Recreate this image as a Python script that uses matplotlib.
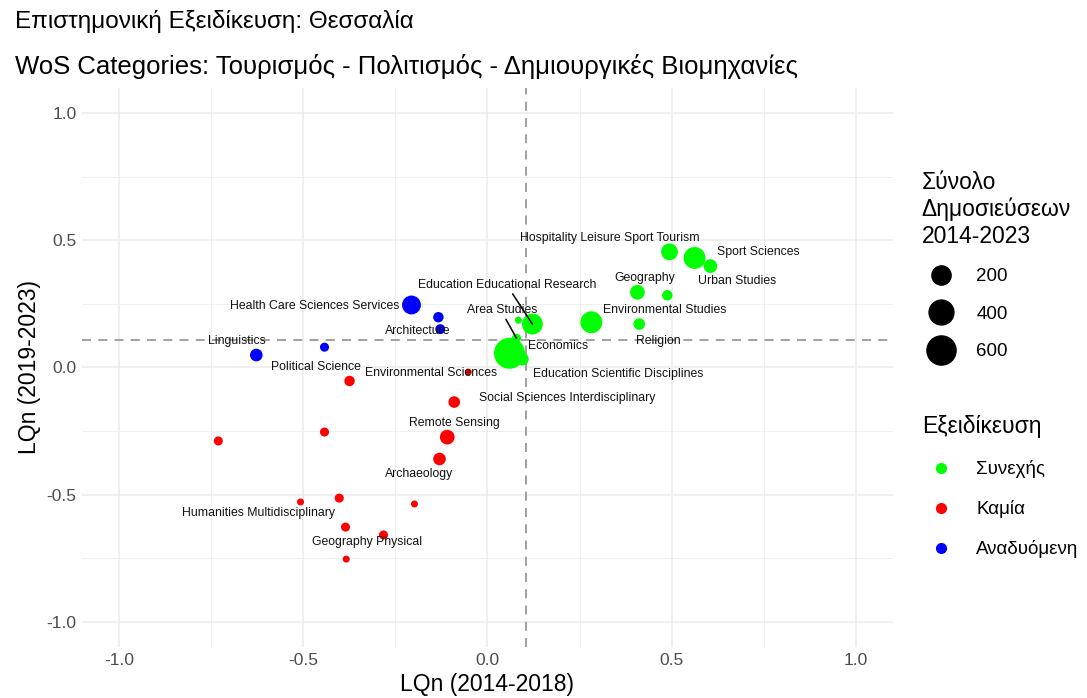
import matplotlib
matplotlib.use("Agg")
import matplotlib.pyplot as plt
from matplotlib.lines import Line2D
import numpy as np

plt.rcParams['font.family'] = ['Liberation Sans', 'DejaVu Sans']
plt.rcParams['axes.unicode_minus'] = False

# WoS categories, LQn in the two periods, publications 2014-2023, group
names = ["Hospitality Leisure Sport Tourism", "Sport Sciences", "Urban Studies",
         "Geography", "", "Environmental Studies", "Religion",
         "Education Educational Research", "", "Area Studies", "Economics",
         "Education Scientific Disciplines",
         "Health Care Sciences Services", "Architecture", "", "Linguistics",
         "Political Science",
         "Environmental Sciences", "Social Sciences Interdisciplinary",
         "Remote Sensing", "Archaeology", "Humanities Multidisciplinary",
         "Geography Physical", "", "", "", "", "", "", ""]
lq_1418 = [0.494, 0.562, 0.605, 0.407, 0.488, 0.282, 0.412, 0.122, 0.084, 0.079,
           0.060, 0.095,
           -0.206, -0.128, -0.133, -0.627, -0.442,
           -0.052, -0.090, -0.109, -0.130, -0.507, -0.282, -0.374, -0.730,
           -0.442, -0.402, -0.198, -0.385, -0.383]
lq_1923 = [0.455, 0.431, 0.399, 0.296, 0.284, 0.178, 0.171, 0.171, 0.186, 0.115,
           0.056, 0.033,
           0.246, 0.151, 0.198, 0.049, 0.080,
           -0.018, -0.136, -0.274, -0.360, -0.529, -0.659, -0.053, -0.289,
           -0.254, -0.514, -0.537, -0.628, -0.754]
pubs = [138, 285, 78, 95, 39, 285, 50, 251, 25, 30, 700, 62,
        190, 35, 39, 62, 30,
        25, 50, 95, 62, 25, 30, 39, 30, 30, 30, 25, 30, 25]
group = ["Συνεχής"] * 12 + ["Αναδυόμενη"] * 5 + ["Καμία"] * 13

x_ref = 0.106
y_ref = 0.108

groups = ["Συνεχής", "Καμία", "Αναδυόμενη"]
colors = {"Συνεχής": "#00FF00", "Καμία": "#FF0000", "Αναδυόμενη": "#0000FF"}
size_breaks = [200, 400, 600]

# label offsets (points), and which ones get a segment
label_off = {
    "Hospitality Leisure Sport Tourism": (-43, 10),
    "Sport Sciences": (46, 4),
    "Urban Studies": (19, -11),
    "Geography": (5, 10),
    "Environmental Studies": (53, 9),
    "Religion": (14, -12),
    "Education Educational Research": (-18, 28),
    "Area Studies": (-10, 20),
    "Economics": (35, 5),
    "Education Scientific Disciplines": (69, -11),
    "Health Care Sciences Services": (-70, -1),
    "Architecture": (-16, -1.5),
    "Linguistics": (-14, 10),
    "Political Science": (-6, -14),
    "Environmental Sciences": (-27, -1),
    "Social Sciences Interdisciplinary": (81, 3),
    "Remote Sensing": (5, 10),
    "Archaeology": (-15, -11),
    "Humanities Multidisciplinary": (-30, -8),
    "Geography Physical": (-12, -5),
}
segment = ["Education Educational Research", "Area Studies"]

nmin, nmax = min(pubs), max(pubs)


def marker_area(n):
    d_px = 7 + 24 * np.sqrt((np.asarray(n, float) - nmin) / (nmax - nmin))
    return (d_px * 0.72) ** 2


fig = plt.figure(figsize=(10.87, 6.98), dpi=100)
ax = fig.add_axes([0.0754, 0.073, 0.746, 0.801])

ax.axvline(x_ref, color="#999999", lw=1.3, ls=(0, (5, 4)), zorder=1)
ax.axhline(y_ref, color="#999999", lw=1.3, ls=(0, (5, 4)), zorder=1)

cols = [colors[g] for g in group]
ax.scatter(lq_1418, lq_1923, s=marker_area(pubs), c=cols, linewidths=0, zorder=2)

for nm, xv, yv in zip(names, lq_1418, lq_1923):
    if not nm:
        continue
    dx, dy = label_off[nm]
    if nm in segment:
        ax.annotate(nm, (xv, yv), xytext=(dx, dy), textcoords="offset points",
                    ha="center", va="center", fontsize=8.8, color="#111111", zorder=3,
                    arrowprops=dict(arrowstyle="-", color="black", lw=1.1,
                                    shrinkA=0, shrinkB=0, relpos=(0.515, 0.1)))
    else:
        ax.annotate(nm, (xv, yv), xytext=(dx, dy), textcoords="offset points",
                    ha="center", va="center", fontsize=8.8, color="#111111", zorder=3)

ax.set_xlim(-1.1, 1.1)
ax.set_ylim(-1.1, 1.1)
ax.set_xticks([-1.0, -0.5, 0.0, 0.5, 1.0])
ax.set_yticks([-1.0, -0.5, 0.0, 0.5, 1.0])
ax.set_xticks([-0.75, -0.25, 0.25, 0.75], minor=True)
ax.set_yticks([-0.75, -0.25, 0.25, 0.75], minor=True)
ax.grid(which="major", color="#EBEBEB", lw=1.1, zorder=0)
ax.grid(which="minor", color="#EBEBEB", lw=0.55, zorder=0)
ax.set_axisbelow(True)
ax.tick_params(which="both", length=0, labelsize=12.5, labelcolor="#4D4D4D", pad=4)
for sp in ax.spines.values():
    sp.set_visible(False)
ax.set_xlabel("LQn (2014-2018)", fontsize=16.5, labelpad=4)
ax.set_ylabel("LQn (2019-2023)", fontsize=16.5, labelpad=4)

fig.text(0.0138, 0.969, "Επιστημονική Εξειδίκευση: Θεσσαλία", fontsize=17.5, va="center")
fig.text(0.0138, 0.905, "WoS Categories: Τουρισμός - Πολιτισμός - Δημιουργικές Βιομηχανίες",
         fontsize=18.5, va="center")

size_handles = [Line2D([], [], ls="", marker="o", color="black",
                       markersize=np.sqrt(marker_area(b))) for b in size_breaks]
leg1 = fig.legend(size_handles, [str(b) for b in size_breaks],
                  title="Σύνολο\nΔημοσιεύσεων\n2014-2023", loc="upper left",
                  bbox_to_anchor=(0.848, 0.755), frameon=False, fontsize=13.5,
                  title_fontsize=16.5, labelspacing=1.09, handletextpad=0.9,
                  alignment="left", borderaxespad=0, borderpad=0)

col_handles = [Line2D([], [], ls="", marker="o", color=colors[g], markersize=7)
               for g in groups]
leg2 = fig.legend(col_handles, groups, title="Εξειδίκευση", loc="upper left",
                  bbox_to_anchor=(0.848, 0.405), frameon=False, fontsize=13.5,
                  title_fontsize=16.5, labelspacing=1.17, handletextpad=0.9,
                  alignment="left", borderaxespad=0, borderpad=0)

fig.savefig("out.png", dpi=100)
